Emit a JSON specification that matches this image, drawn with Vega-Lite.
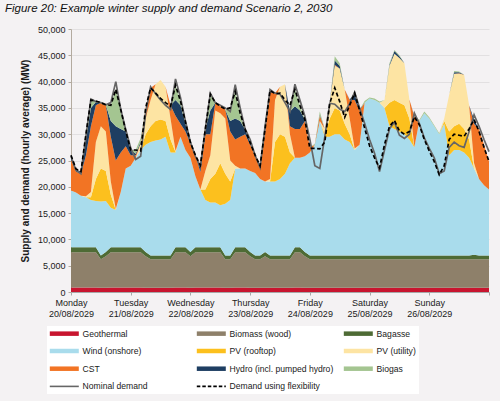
{
  "$schema": "https://vega.github.io/schema/vega-lite/v6.json",
  "description": "Example winter supply and demand, Scenario 2, 2030 (hourly average, MW)",
  "width": 418,
  "height": 263,
  "autosize": {"type": "none"},
  "padding": {"left": 71, "top": 29, "right": 11, "bottom": 109},
  "background": "#f4f2f3",
  "title": {
    "text": "Figure 20: Example winter supply and demand Scenario 2, 2030",
    "anchor": "start",
    "frame": "group",
    "dx": -66,
    "offset": 11,
    "fontSize": 11.5,
    "fontStyle": "italic",
    "fontWeight": "normal",
    "color": "#111111"
  },
  "config": {
    "font": "Liberation Sans",
    "view": {"stroke": null, "fill": "#f4f2f3"},
    "axis": {"labelFont": "Liberation Sans", "titleFont": "Liberation Sans", "labelColor": "#1a1a1a", "titleColor": "#1a1a1a"},
    "axisY": {
      "titleFontSize": 10,
      "titleFontWeight": "bold",
      "titlePadding": 7,
      "labelOverlap": false,
      "labelFontSize": 9,
      "labelPadding": 3,
      "tickSize": 3,
      "grid": true,
      "gridColor": "#e2e0e1",
      "domainColor": "#b3ab9f",
      "tickColor": "#b3ab9f"
    }
  },
  "datasets": {
    "series": [
      {"key": "geo", "name": "Geothermal", "rank": 1},
      {"key": "bio", "name": "Biomass (wood)", "rank": 2},
      {"key": "bag", "name": "Bagasse", "rank": 3},
      {"key": "wind", "name": "Wind (onshore)", "rank": 4},
      {"key": "pvr", "name": "PV (rooftop)", "rank": 5},
      {"key": "pvu", "name": "PV (utility)", "rank": 6},
      {"key": "cst", "name": "CST", "rank": 7},
      {"key": "hydro", "name": "Hydro (incl. pumped hydro)", "rank": 8},
      {"key": "biogas", "name": "Biogas", "rank": 9}
    ]
  },
  "data": {
    "values": [
      {"h": 0, "geo": 850, "bio": 6700, "bag": 950, "wind": 10800, "pvr": 0, "pvu": 0, "cst": 5900, "hydro": 800, "biogas": 0, "nominal": 25800, "flex": 26000},
      {"h": 2, "geo": 850, "bio": 6700, "bag": 950, "wind": 10400, "pvr": 0, "pvu": 0, "cst": 4000, "hydro": 400, "biogas": 0, "nominal": 23200, "flex": 23400},
      {"h": 4, "geo": 850, "bio": 6700, "bag": 950, "wind": 9800, "pvr": 0, "pvu": 0, "cst": 4100, "hydro": 500, "biogas": 0, "nominal": 22500, "flex": 22900},
      {"h": 6, "geo": 850, "bio": 6700, "bag": 950, "wind": 9500, "pvr": 0, "pvu": 200, "cst": 7800, "hydro": 3000, "biogas": 1000, "nominal": 29600, "flex": 30000},
      {"h": 8, "geo": 850, "bio": 6700, "bag": 950, "wind": 9000, "pvr": 500, "pvu": 1000, "cst": 12500, "hydro": 3500, "biogas": 1600, "nominal": 36700, "flex": 36500},
      {"h": 10, "geo": 850, "bio": 6700, "bag": 950, "wind": 8800, "pvr": 4200, "pvu": 7000, "cst": 7000, "hydro": 600, "biogas": 200, "nominal": 36200, "flex": 36300},
      {"h": 12, "geo": 800, "bio": 5450, "bag": 700, "wind": 10250, "pvr": 6300, "pvu": 8000, "cst": 4500, "hydro": 0, "biogas": 0, "nominal": 36000, "flex": 36000},
      {"h": 14, "geo": 820, "bio": 6000, "bag": 800, "wind": 9680, "pvr": 5700, "pvu": 7500, "cst": 5100, "hydro": 0, "biogas": 0, "nominal": 35600, "flex": 35600},
      {"h": 16, "geo": 850, "bio": 6700, "bag": 950, "wind": 7500, "pvr": 2500, "pvu": 2500, "cst": 8500, "hydro": 3000, "biogas": 3000, "nominal": 36000, "flex": 35500},
      {"h": 18, "geo": 850, "bio": 6700, "bag": 950, "wind": 7100, "pvr": 0, "pvu": 200, "cst": 9200, "hydro": 6500, "biogas": 7100, "nominal": 40000, "flex": 38500},
      {"h": 20, "geo": 850, "bio": 6700, "bag": 950, "wind": 10500, "pvr": 0, "pvu": 0, "cst": 7500, "hydro": 4500, "biogas": 3700, "nominal": 34700, "flex": 34700},
      {"h": 22, "geo": 850, "bio": 6700, "bag": 950, "wind": 15000, "pvr": 0, "pvu": 0, "cst": 4200, "hydro": 2800, "biogas": 300, "nominal": 30900, "flex": 30600},
      {"h": 24, "geo": 850, "bio": 6700, "bag": 950, "wind": 15500, "pvr": 0, "pvu": 0, "cst": 2000, "hydro": 1000, "biogas": 0, "nominal": 27400, "flex": 27000},
      {"h": 26, "geo": 850, "bio": 6700, "bag": 950, "wind": 17000, "pvr": 0, "pvu": 0, "cst": 500, "hydro": 300, "biogas": 700, "nominal": 25200, "flex": 27000},
      {"h": 28, "geo": 850, "bio": 6700, "bag": 950, "wind": 18500, "pvr": 0, "pvu": 1300, "cst": 0, "hydro": 300, "biogas": 700, "nominal": 25800, "flex": 26800},
      {"h": 30, "geo": 820, "bio": 6000, "bag": 800, "wind": 20380, "pvr": 2000, "pvu": 3000, "cst": 2000, "hydro": 0, "biogas": 0, "nominal": 34000, "flex": 35000},
      {"h": 32, "geo": 800, "bio": 5450, "bag": 700, "wind": 21550, "pvr": 3000, "pvu": 5000, "cst": 2300, "hydro": 0, "biogas": 0, "nominal": 39000, "flex": 38800},
      {"h": 34, "geo": 800, "bio": 5450, "bag": 700, "wind": 21850, "pvr": 3700, "pvu": 7000, "cst": 0, "hydro": 0, "biogas": 0, "nominal": 37700, "flex": 37800},
      {"h": 36, "geo": 800, "bio": 5450, "bag": 700, "wind": 22050, "pvr": 3800, "pvu": 7500, "cst": 0, "hydro": 0, "biogas": 0, "nominal": 36500, "flex": 36800},
      {"h": 38, "geo": 800, "bio": 5450, "bag": 700, "wind": 22550, "pvr": 3000, "pvu": 6500, "cst": 0, "hydro": 0, "biogas": 0, "nominal": 35500, "flex": 36000},
      {"h": 40, "geo": 800, "bio": 5450, "bag": 700, "wind": 19550, "pvr": 2500, "pvu": 4000, "cst": 2500, "hydro": 0, "biogas": 0, "nominal": 34700, "flex": 35300},
      {"h": 42, "geo": 850, "bio": 6700, "bag": 950, "wind": 18000, "pvr": 100, "pvu": 200, "cst": 6700, "hydro": 3000, "biogas": 2800, "nominal": 40500, "flex": 39300},
      {"h": 44, "geo": 850, "bio": 6700, "bag": 950, "wind": 21000, "pvr": 0, "pvu": 0, "cst": 2500, "hydro": 3500, "biogas": 800, "nominal": 37000, "flex": 36300},
      {"h": 46, "geo": 850, "bio": 6700, "bag": 950, "wind": 18500, "pvr": 0, "pvu": 0, "cst": 3500, "hydro": 1500, "biogas": 300, "nominal": 32500, "flex": 32300},
      {"h": 48, "geo": 820, "bio": 6000, "bag": 800, "wind": 17880, "pvr": 0, "pvu": 0, "cst": 2700, "hydro": 200, "biogas": 0, "nominal": 28500, "flex": 28400},
      {"h": 50, "geo": 850, "bio": 6700, "bag": 950, "wind": 13500, "pvr": 0, "pvu": 0, "cst": 4000, "hydro": 0, "biogas": 0, "nominal": 25800, "flex": 26000},
      {"h": 52, "geo": 850, "bio": 6700, "bag": 950, "wind": 11000, "pvr": 0, "pvu": 0, "cst": 3300, "hydro": 1100, "biogas": 0, "nominal": 23900, "flex": 24100},
      {"h": 54, "geo": 850, "bio": 6700, "bag": 950, "wind": 9000, "pvr": 2000, "pvu": 3500, "cst": 7000, "hydro": 1000, "biogas": 0, "nominal": 31000, "flex": 31000},
      {"h": 56, "geo": 850, "bio": 6700, "bag": 950, "wind": 8500, "pvr": 4500, "pvu": 4500, "cst": 4000, "hydro": 4500, "biogas": 3200, "nominal": 37800, "flex": 37600},
      {"h": 58, "geo": 850, "bio": 6700, "bag": 950, "wind": 8500, "pvr": 5500, "pvu": 12000, "cst": 1500, "hydro": 0, "biogas": 0, "nominal": 36000, "flex": 36000},
      {"h": 60, "geo": 850, "bio": 6700, "bag": 950, "wind": 8000, "pvr": 8000, "pvu": 9500, "cst": 1300, "hydro": 0, "biogas": 0, "nominal": 35500, "flex": 35300},
      {"h": 62, "geo": 800, "bio": 5450, "bag": 700, "wind": 9850, "pvr": 5700, "pvu": 10500, "cst": 1700, "hydro": 0, "biogas": 0, "nominal": 35000, "flex": 34800},
      {"h": 64, "geo": 800, "bio": 5450, "bag": 700, "wind": 10550, "pvr": 3500, "pvu": 4000, "cst": 5500, "hydro": 2000, "biogas": 2500, "nominal": 34300, "flex": 35000},
      {"h": 66, "geo": 850, "bio": 6700, "bag": 950, "wind": 15000, "pvr": 0, "pvu": 500, "cst": 5000, "hydro": 4000, "biogas": 5200, "nominal": 39400, "flex": 38100},
      {"h": 68, "geo": 850, "bio": 6700, "bag": 950, "wind": 15000, "pvr": 0, "pvu": 0, "cst": 6000, "hydro": 3000, "biogas": 1500, "nominal": 35000, "flex": 34000},
      {"h": 70, "geo": 850, "bio": 6700, "bag": 950, "wind": 15000, "pvr": 0, "pvu": 0, "cst": 6500, "hydro": 900, "biogas": 0, "nominal": 31000, "flex": 30900},
      {"h": 72, "geo": 820, "bio": 6000, "bag": 800, "wind": 15380, "pvr": 0, "pvu": 0, "cst": 5000, "hydro": 400, "biogas": 0, "nominal": 29000, "flex": 28400},
      {"h": 74, "geo": 800, "bio": 5450, "bag": 700, "wind": 15650, "pvr": 0, "pvu": 0, "cst": 3400, "hydro": 0, "biogas": 0, "nominal": 26000, "flex": 26000},
      {"h": 76, "geo": 800, "bio": 5450, "bag": 700, "wind": 14550, "pvr": 0, "pvu": 0, "cst": 2300, "hydro": 200, "biogas": 0, "nominal": 23700, "flex": 24000},
      {"h": 78, "geo": 820, "bio": 6000, "bag": 800, "wind": 13380, "pvr": 0, "pvu": 0, "cst": 9500, "hydro": 500, "biogas": 0, "nominal": 31500, "flex": 31000},
      {"h": 80, "geo": 800, "bio": 5450, "bag": 700, "wind": 14050, "pvr": 0, "pvu": 500, "cst": 16500, "hydro": 300, "biogas": 0, "nominal": 38500, "flex": 38300},
      {"h": 82, "geo": 800, "bio": 5450, "bag": 700, "wind": 14050, "pvr": 7500, "pvu": 8000, "cst": 1300, "hydro": 0, "biogas": 0, "nominal": 37800, "flex": 37700},
      {"h": 84, "geo": 800, "bio": 5450, "bag": 700, "wind": 14550, "pvr": 8500, "pvu": 9000, "cst": 0, "hydro": 0, "biogas": 0, "nominal": 37600, "flex": 37800},
      {"h": 86, "geo": 800, "bio": 5450, "bag": 700, "wind": 15550, "pvr": 7000, "pvu": 10000, "cst": 0, "hydro": 0, "biogas": 0, "nominal": 36000, "flex": 36500},
      {"h": 88, "geo": 800, "bio": 5450, "bag": 700, "wind": 17550, "pvr": 2000, "pvu": 3500, "cst": 1500, "hydro": 2800, "biogas": 200, "nominal": 34300, "flex": 35500},
      {"h": 90, "geo": 850, "bio": 6700, "bag": 950, "wind": 17000, "pvr": 0, "pvu": 0, "cst": 5500, "hydro": 4300, "biogas": 3200, "nominal": 39500, "flex": 38500},
      {"h": 92, "geo": 850, "bio": 6700, "bag": 950, "wind": 17000, "pvr": 0, "pvu": 0, "cst": 5500, "hydro": 3500, "biogas": 1000, "nominal": 36500, "flex": 35500},
      {"h": 94, "geo": 820, "bio": 6000, "bag": 800, "wind": 18180, "pvr": 0, "pvu": 0, "cst": 6700, "hydro": 300, "biogas": 0, "nominal": 33400, "flex": 32800},
      {"h": 96, "geo": 800, "bio": 5450, "bag": 700, "wind": 19550, "pvr": 0, "pvu": 0, "cst": 1000, "hydro": 0, "biogas": 0, "nominal": 29000, "flex": 27300},
      {"h": 98, "geo": 800, "bio": 5450, "bag": 700, "wind": 21050, "pvr": 0, "pvu": 0, "cst": 0, "hydro": 0, "biogas": 200, "nominal": 24000, "flex": 27300},
      {"h": 100, "geo": 800, "bio": 5450, "bag": 700, "wind": 25550, "pvr": 0, "pvu": 0, "cst": 1000, "hydro": 200, "biogas": 600, "nominal": 23500, "flex": 27200},
      {"h": 102, "geo": 800, "bio": 5450, "bag": 700, "wind": 22550, "pvr": 500, "pvu": 1000, "cst": 0, "hydro": 0, "biogas": 0, "nominal": 29500, "flex": 28500},
      {"h": 104, "geo": 800, "bio": 5450, "bag": 700, "wind": 22550, "pvr": 3500, "pvu": 3000, "cst": 0, "hydro": 0, "biogas": 0, "nominal": 35900, "flex": 35900},
      {"h": 106, "geo": 800, "bio": 5450, "bag": 700, "wind": 23050, "pvr": 5000, "pvu": 8000, "cst": 200, "hydro": 800, "biogas": 800, "nominal": 35700, "flex": 38800},
      {"h": 108, "geo": 800, "bio": 5450, "bag": 700, "wind": 23050, "pvr": 4500, "pvu": 8000, "cst": 0, "hydro": 500, "biogas": 500, "nominal": 34800, "flex": 36200},
      {"h": 110, "geo": 800, "bio": 5450, "bag": 700, "wind": 22050, "pvr": 3000, "pvu": 6500, "cst": 0, "hydro": 0, "biogas": 0, "nominal": 34300, "flex": 33200},
      {"h": 112, "geo": 800, "bio": 5450, "bag": 700, "wind": 21550, "pvr": 1500, "pvu": 3000, "cst": 3500, "hydro": 100, "biogas": 0, "nominal": 35800, "flex": 35500},
      {"h": 114, "geo": 800, "bio": 5450, "bag": 700, "wind": 20050, "pvr": 0, "pvu": 300, "cst": 9200, "hydro": 1300, "biogas": 0, "nominal": 38000, "flex": 37800},
      {"h": 116, "geo": 800, "bio": 5450, "bag": 700, "wind": 21050, "pvr": 0, "pvu": 0, "cst": 6500, "hydro": 200, "biogas": 0, "nominal": 35000, "flex": 34500},
      {"h": 118, "geo": 800, "bio": 5450, "bag": 700, "wind": 29050, "pvr": 0, "pvu": 0, "cst": 0, "hydro": 0, "biogas": 300, "nominal": 32100, "flex": 31200},
      {"h": 120, "geo": 800, "bio": 5450, "bag": 700, "wind": 29850, "pvr": 0, "pvu": 0, "cst": 0, "hydro": 0, "biogas": 200, "nominal": 29000, "flex": 27800},
      {"h": 122, "geo": 800, "bio": 5450, "bag": 700, "wind": 29550, "pvr": 0, "pvu": 0, "cst": 0, "hydro": 0, "biogas": 300, "nominal": 26400, "flex": 25500},
      {"h": 124, "geo": 800, "bio": 5450, "bag": 700, "wind": 29050, "pvr": 0, "pvu": 0, "cst": 0, "hydro": 0, "biogas": 200, "nominal": 22900, "flex": 23600},
      {"h": 126, "geo": 800, "bio": 5450, "bag": 700, "wind": 28050, "pvr": 0, "pvu": 1500, "cst": 0, "hydro": 0, "biogas": 0, "nominal": 27000, "flex": 28000},
      {"h": 128, "geo": 800, "bio": 5450, "bag": 700, "wind": 24550, "pvr": 4500, "pvu": 7000, "cst": 0, "hydro": 200, "biogas": 300, "nominal": 31000, "flex": 31500},
      {"h": 130, "geo": 800, "bio": 5450, "bag": 700, "wind": 24050, "pvr": 5500, "pvu": 8800, "cst": 0, "hydro": 500, "biogas": 200, "nominal": 32300, "flex": 32600},
      {"h": 132, "geo": 800, "bio": 5450, "bag": 700, "wind": 23550, "pvr": 5500, "pvu": 8500, "cst": 0, "hydro": 300, "biogas": 200, "nominal": 29800, "flex": 30600},
      {"h": 134, "geo": 800, "bio": 5450, "bag": 700, "wind": 23050, "pvr": 5500, "pvu": 8000, "cst": 0, "hydro": 0, "biogas": 0, "nominal": 29200, "flex": 30000},
      {"h": 136, "geo": 800, "bio": 5450, "bag": 700, "wind": 22050, "pvr": 4000, "pvu": 3600, "cst": 0, "hydro": 0, "biogas": 0, "nominal": 30000, "flex": 30500},
      {"h": 138, "geo": 800, "bio": 5450, "bag": 700, "wind": 20550, "pvr": 0, "pvu": 0, "cst": 5800, "hydro": 100, "biogas": 0, "nominal": 34000, "flex": 33300},
      {"h": 140, "geo": 800, "bio": 5450, "bag": 700, "wind": 25550, "pvr": 0, "pvu": 0, "cst": 0, "hydro": 0, "biogas": 200, "nominal": 32000, "flex": 31800},
      {"h": 142, "geo": 800, "bio": 5450, "bag": 700, "wind": 27050, "pvr": 0, "pvu": 0, "cst": 0, "hydro": 0, "biogas": 300, "nominal": 29300, "flex": 29000},
      {"h": 144, "geo": 800, "bio": 5450, "bag": 700, "wind": 26050, "pvr": 0, "pvu": 0, "cst": 0, "hydro": 0, "biogas": 200, "nominal": 27300, "flex": 26800},
      {"h": 146, "geo": 800, "bio": 5450, "bag": 700, "wind": 24550, "pvr": 0, "pvu": 0, "cst": 0, "hydro": 0, "biogas": 200, "nominal": 25500, "flex": 24800},
      {"h": 148, "geo": 800, "bio": 5450, "bag": 700, "wind": 23050, "pvr": 0, "pvu": 0, "cst": 0, "hydro": 0, "biogas": 200, "nominal": 22500, "flex": 22300},
      {"h": 150, "geo": 800, "bio": 5450, "bag": 700, "wind": 25050, "pvr": 500, "pvu": 500, "cst": 0, "hydro": 0, "biogas": 0, "nominal": 23000, "flex": 24000},
      {"h": 152, "geo": 800, "bio": 5450, "bag": 700, "wind": 19050, "pvr": 4500, "pvu": 7000, "cst": 0, "hydro": 0, "biogas": 0, "nominal": 27500, "flex": 29000},
      {"h": 154, "geo": 800, "bio": 5450, "bag": 700, "wind": 20050, "pvr": 4500, "pvu": 10000, "cst": 0, "hydro": 300, "biogas": 200, "nominal": 28500, "flex": 30000},
      {"h": 156, "geo": 800, "bio": 5450, "bag": 700, "wind": 20050, "pvr": 5000, "pvu": 9500, "cst": 100, "hydro": 200, "biogas": 100, "nominal": 27800, "flex": 29800},
      {"h": 158, "geo": 800, "bio": 5450, "bag": 700, "wind": 19550, "pvr": 4500, "pvu": 10300, "cst": 0, "hydro": 0, "biogas": 0, "nominal": 27500, "flex": 29600},
      {"h": 160, "geo": 800, "bio": 5450, "bag": 700, "wind": 18550, "pvr": 3500, "pvu": 6500, "cst": 0, "hydro": 0, "biogas": 0, "nominal": 30500, "flex": 31000},
      {"h": 162, "geo": 800, "bio": 5450, "bag": 850, "wind": 16400, "pvr": 0, "pvu": 1000, "cst": 7500, "hydro": 800, "biogas": 0, "nominal": 33700, "flex": 32800},
      {"h": 164, "geo": 800, "bio": 5450, "bag": 700, "wind": 14550, "pvr": 0, "pvu": 0, "cst": 9400, "hydro": 0, "biogas": 0, "nominal": 31500, "flex": 30500},
      {"h": 166, "geo": 800, "bio": 5450, "bag": 700, "wind": 13350, "pvr": 0, "pvu": 0, "cst": 7700, "hydro": 0, "biogas": 0, "nominal": 29000, "flex": 27500},
      {"h": 168, "geo": 800, "bio": 5450, "bag": 700, "wind": 12550, "pvr": 0, "pvu": 0, "cst": 5300, "hydro": 0, "biogas": 0, "nominal": 26700, "flex": 24800}
    ]
  },
  "encoding": {
    "x": {
      "field": "h",
      "type": "quantitative",
      "scale": {"domain": [0, 168], "nice": false, "zero": false},
      "axis": {
        "title": null,
        "values": [0, 24, 48, 72, 96, 120, 144, 168],
        "labelExpr": "datum.value >= 168 ? '' : [['Monday', '20/08/2029'], ['Tuesday', '21/08/2029'], ['Wednesday', '22/08/2029'], ['Thursday', '23/08/2029'], ['Friday', '24/08/2029'], ['Saturday', '25/08/2029'], ['Sunday', '26/08/2029']][datum.value / 24]",
        "grid": false,
        "domainColor": "#a8a8a8",
        "tickColor": "#a8a8a8",
        "tickSize": 3,
        "labelFontSize": 9,
        "labelPadding": 3,
        "labelAlign": "center",
        "labelFlush": false,
        "labelOverlap": false,
        "labelLineHeight": 11
      }
    }
  },
  "layer": [
    {
      "transform": [
        {"fold": ["geo", "bio", "bag", "wind", "pvr", "pvu", "cst", "hydro", "biogas"]},
        {"lookup": "key", "from": {"data": {"name": "series"}, "key": "key", "fields": ["name", "rank"]}}
      ],
      "mark": {"type": "area", "interpolate": "linear"},
      "encoding": {
        "y": {
          "field": "value",
          "type": "quantitative",
          "stack": "zero",
          "scale": {"domain": [0, 50000], "nice": false},
          "axis": {
            "title": "Supply and demand (hourly average) (MW)",
            "values": [0, 5000, 10000, 15000, 20000, 25000, 30000, 35000, 40000, 45000, 50000],
            "format": ",d"
          }
        },
        "order": {"field": "rank", "type": "quantitative"},
        "color": {
          "field": "name",
          "type": "nominal",
          "scale": {
            "domain": ["Geothermal", "Biomass (wood)", "Bagasse", "Wind (onshore)", "PV (rooftop)", "PV (utility)", "CST", "Hydro (incl. pumped hydro)", "Biogas", "Nominal demand", "Demand using flexibility"],
            "range": ["#c8152f", "#8e806a", "#4e6b35", "#a9dcec", "#fcc01e", "#fde4a3", "#f27424", "#1e3e62", "#a4c591", "#666666", "#000000"]
          },
          "legend": {
            "title": null,
            "orient": "none",
            "legendX": -24,
            "legendY": 297,
            "direction": "horizontal",
            "columns": 3,
            "gridAlign": "all",
            "columnPadding": 0,
            "rowPadding": -1.3,
            "padding": 3,
            "fillColor": "#ffffff",
            "symbolType": "M-2.25,0H12.25",
            "symbolSize": 16,
            "symbolStrokeWidth": 4.5,
            "labelFontSize": 8.6,
            "labelColor": "#1a1a1a",
            "labelOffset": 24,
            "labelLimit": 200,
            "encode": {
              "symbols": {
                "update": {
                  "stroke": {"scale": "color", "field": "value"},
                  "fill": {"value": "transparent"},
                  "opacity": {"value": 1},
                  "strokeWidth": {"signal": "indexof(['Nominal demand', 'Demand using flexibility'], datum.value) >= 0 ? 1.6 : 4.5"},
                  "strokeDash": {"signal": "datum.value == 'Demand using flexibility' ? [3.5, 2] : []"}
                }
              }
            }
          }
        }
      }
    },
    {
      "mark": {"type": "line", "strokeWidth": 1.7, "interpolate": "linear"},
      "encoding": {
        "y": {
          "field": "nominal",
          "type": "quantitative",
          "axis": {
            "title": "Supply and demand (hourly average) (MW)",
            "values": [0, 5000, 10000, 15000, 20000, 25000, 30000, 35000, 40000, 45000, 50000],
            "format": ",d"
          }
        },
        "color": {"datum": "Nominal demand", "type": "nominal"}
      }
    },
    {
      "mark": {"type": "line", "strokeWidth": 1.7, "strokeDash": [4, 2.5], "interpolate": "linear"},
      "encoding": {
        "y": {
          "field": "flex",
          "type": "quantitative",
          "axis": {
            "title": "Supply and demand (hourly average) (MW)",
            "values": [0, 5000, 10000, 15000, 20000, 25000, 30000, 35000, 40000, 45000, 50000],
            "format": ",d"
          }
        },
        "color": {"datum": "Demand using flexibility", "type": "nominal"}
      }
    }
  ]
}
